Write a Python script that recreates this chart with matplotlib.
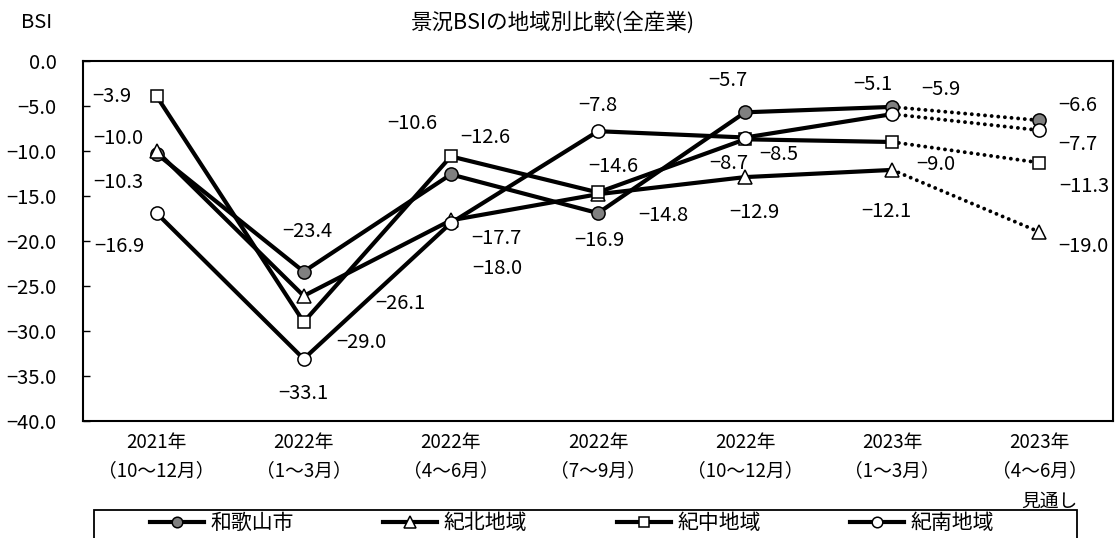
import matplotlib
matplotlib.use("Agg")
import matplotlib.pyplot as plt
from matplotlib.lines import Line2D
from matplotlib.patches import Rectangle
from matplotlib.ticker import MultipleLocator, FuncFormatter

plt.rcParams['font.family'] = ['Noto Sans CJK JP', 'DejaVu Sans']

# データ
periods = ["2021年\n（10〜12月）", "2022年\n（1〜3月）", "2022年\n（4〜6月）",
           "2022年\n（7〜9月）", "2022年\n（10〜12月）", "2023年\n（1〜3月）",
           "2023年\n（4〜6月）"]
wakayama = [-10.3, -23.4, -12.6, -16.9, -5.7, -5.1, -6.6]
kihoku = [-10.0, -26.1, -17.7, -14.8, -12.9, -12.1, -19.0]
kichu = [-3.9, -29.0, -10.6, -14.6, -8.7, -9.0, -11.3]
kinan = [-16.9, -33.1, -18.0, -7.8, -8.5, -5.9, -7.7]
names = ["和歌山市", "紀北地域", "紀中地域", "紀南地域"]

# ラベルの位置 (pixel offset)
off_wakayama = [(-38, -29), (4, 40), (34, 37), (1, -27), (-17, 32), (-19, 22), (38, 15)]
off_kihoku = [(-38, 13), (97, -8), (46, -18), (65, -21), (9, -35), (-6, -42), (44, -15)]
off_kichu = [(-45, 0), (58, -20), (-39, 33), (15, 26), (-16, -24), (44, -22), (45, -24)]
off_kinan = [(-37, -33), (0, -35), (46, -45), (0, 26), (34, -17), (49, 25), (38, -14)]

series = [
    (wakayama, 'o', '#808080', 9.5, off_wakayama),
    (kihoku, '^', 'white', 10, off_kihoku),
    (kichu, 's', 'white', 9, off_kichu),
    (kinan, 'o', 'white', 9.5, off_kinan),
]

def fmt(v):
    return f"{v:.1f}".replace('-', '\u2212')

fig = plt.figure(figsize=(11.17, 5.38), dpi=100)
ax = fig.add_axes([83/1117, 1-421/538, 1030/1117, 360/538])

x = list(range(len(periods)))
handles = []
for i, (vals, mk, fc, ms, offs) in enumerate(series):
    ax.plot(x[:6], vals[:6], color='black', lw=3, zorder=2, solid_capstyle='round')
    ax.plot(x[5:], vals[5:], color='black', lw=2.8, linestyle=(0, (0.01, 1.7)),
            dash_capstyle='round', zorder=2)
    ax.plot(x, vals, linestyle='none', marker=mk, ms=ms, mfc=fc, mec='black',
            mew=1.1, zorder=3 + i)
    for xi, v, (dx, dy) in zip(x, vals, offs):
        ax.annotate(fmt(v), xy=(xi, v), xytext=(dx, dy), textcoords='offset pixels',
                    ha='center', va='center', fontsize=14.5, zorder=10)
    handles.append(Line2D([], [], color='black', lw=3, marker=mk, ms=ms * 0.8,
                          mfc=fc, mec='black', mew=1.1))

ax.set_xlim(-0.5, 6.5)
ax.set_ylim(-40, 0)
ax.yaxis.set_major_locator(MultipleLocator(5))
ax.yaxis.set_major_formatter(FuncFormatter(lambda v, p: fmt(v)))
ax.set_xticks(x)
ax.set_xticklabels(periods, fontsize=13.5, linespacing=1.45)
ax.tick_params(axis='x', length=0, pad=8)
ax.tick_params(axis='y', direction='in', length=5, width=1, pad=19, labelsize=14.5)
for s in ax.spines.values():
    s.set_linewidth(1.5)

ax.annotate("見通し", xy=(6, 0), xycoords=('data', 'axes fraction'),
            xytext=(10, -80), textcoords='offset pixels', ha='center', va='center',
            fontsize=13.5)

fig.text(552/1117, 1-23/538, "景況BSIの地域別比較(全産業)", ha='center', va='center', fontsize=15.5)
fig.text(37/1117, 1-23/538, "BSI", ha='center', va='center', fontsize=14.5)

# 凡例
fig.patches.append(Rectangle((94/1117, 1-548/538), 983/1117, 38/538,
                             transform=fig.transFigure, fill=False,
                             edgecolor='black', lw=1.3))
fig.legend(handles, names, ncol=4, loc='center', bbox_to_anchor=(572/1117, 1-523/538),
           frameon=False, fontsize=15, handlelength=2.6, handletextpad=0.3,
           columnspacing=4.3, borderpad=0)

fig.savefig("out.png", dpi=100)
